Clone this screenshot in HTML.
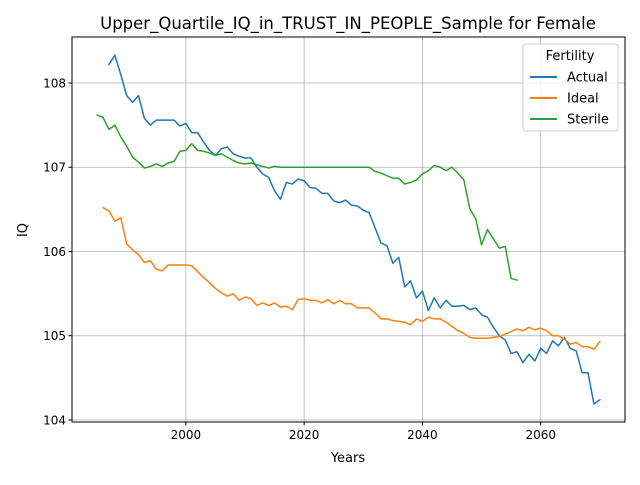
<!DOCTYPE html>
<html><head><meta charset="utf-8"><style>
body{margin:0;background:#fff;}
svg text{font-family:"DejaVu Sans","Liberation Sans",sans-serif;fill:#000;}
</style></head><body>
<svg id="chart" width="640" height="480" xmlns="http://www.w3.org/2000/svg">
<rect width="640" height="480" fill="#fff"/>
<text x="348" y="29" font-size="16.5" text-anchor="middle">Upper_Quartile_IQ_in_TRUST_IN_PEOPLE_Sample for Female</text>
<g id="grid"></g>
<g id="series"></g>
<rect x="72" y="37" width="553" height="385" fill="none" stroke="#000" stroke-width="1"/>
<g id="ticks"></g>
<text x="348" y="462" font-size="13" text-anchor="middle">Years</text>
<text transform="translate(27,230) rotate(-90)" font-size="13" text-anchor="middle">IQ</text>
<g>
<rect x="523" y="44" width="95" height="87" rx="3" fill="#fff" fill-opacity="0.8" stroke="#ccc"/>
<text x="570" y="60" font-size="13" text-anchor="middle">Fertility</text>
<g><line x1="530" y1="77" x2="557" y2="77" stroke="#1f77b4" stroke-width="2"/><text x="567" y="81.5" font-size="13">Actual</text></g>
<g><line x1="530" y1="98" x2="557" y2="98" stroke="#ff7f0e" stroke-width="2"/><text x="567" y="102.5" font-size="13">Ideal</text></g>
<g><line x1="530" y1="119" x2="557" y2="119" stroke="#2ca02c" stroke-width="2"/><text x="567" y="123.5" font-size="13">Sterile</text></g>
</g>
</svg>
<script>
const actualStart = 1987;
const actualValues = [108.22,108.33,108.1,107.85,107.77,107.85,107.58,107.5,107.56,107.56,107.56,107.56,107.49,107.52,107.41,107.41,107.3,107.2,107.14,107.22,107.24,107.16,107.13,107.11,107.11,107.0,106.92,106.88,106.72,106.62,106.82,106.8,106.86,106.84,106.76,106.75,106.69,106.69,106.6,106.58,106.61,106.55,106.54,106.49,106.46,106.28,106.1,106.07,105.86,105.93,105.58,105.65,105.45,105.53,105.3,105.45,105.33,105.42,105.35,105.35,105.36,105.31,105.33,105.25,105.22,105.1,105.0,104.95,104.79,104.81,104.68,104.78,104.7,104.85,104.79,104.94,104.88,104.98,104.85,104.82,104.56,104.56,104.19,104.24];
const idealStart = 1986;
const idealValues = [106.52,106.48,106.36,106.4,106.09,106.02,105.96,105.87,105.89,105.79,105.77,105.84,105.84,105.84,105.84,105.83,105.76,105.69,105.63,105.56,105.51,105.47,105.5,105.42,105.46,105.44,105.36,105.39,105.36,105.39,105.34,105.35,105.31,105.43,105.44,105.42,105.42,105.39,105.43,105.38,105.42,105.38,105.38,105.33,105.33,105.33,105.27,105.2,105.2,105.18,105.17,105.16,105.13,105.2,105.17,105.22,105.2,105.2,105.16,105.11,105.06,105.03,104.98,104.97,104.97,104.97,104.98,104.99,105.02,105.05,105.08,105.06,105.1,105.07,105.09,105.06,105.0,105.0,104.96,104.9,104.92,104.87,104.87,104.84,104.93];
const sterileStart = 1985;
const sterileValues = [107.62,107.59,107.45,107.5,107.36,107.25,107.12,107.06,106.99,107.01,107.04,107.01,107.05,107.07,107.19,107.2,107.28,107.2,107.19,107.17,107.14,107.16,107.12,107.08,107.05,107.04,107.05,107.03,107.01,106.99,107.01,107.0,107.0,107.0,107.0,107.0,107.0,107.0,107.0,107.0,107.0,107.0,107.0,107.0,107.0,107.0,107.0,106.95,106.93,106.9,106.87,106.87,106.8,106.82,106.85,106.92,106.96,107.02,107.0,106.96,107.0,106.93,106.85,106.51,106.39,106.08,106.26,106.15,106.04,106.06,105.68,105.66];
const xTicks = [2000,2020,2040,2060];
const yTicks = [104,105,106,107,108];

const X0=72,X1=625,Y0=37,Y1=422, xMin=1980.75,xMax=2074.25,yMin=103.976,yMax=108.546;
const xs=v=>X0+(v-xMin)/(xMax-xMin)*(X1-X0);
const ys=v=>Y1-(v-yMin)/(yMax-yMin)*(Y1-Y0);
const NS='http://www.w3.org/2000/svg';
const mk=(t,a,p)=>{const e=document.createElementNS(NS,t);for(const k in a)e.setAttribute(k,a[k]);p.appendChild(e);return e;};
const grid=document.getElementById('grid'),ticks=document.getElementById('ticks'),series=document.getElementById('series');
xTicks.forEach(t=>{const x=xs(t);
 const g=mk('line',{x1:x,x2:x,y1:Y0,y2:Y1,stroke:'#b0b0b0','stroke-width':0.8},grid);
 
 
 mk('line',{x1:x,x2:x,y1:Y1,y2:Y1+3.5,stroke:'#000'},ticks);
 const l=mk('text',{x:x,y:Y1+17,'font-size':12,'text-anchor':'middle'},ticks);l.textContent=t;
 
 
});
yTicks.forEach(t=>{const y=ys(t);
 const g=mk('line',{x1:X0,x2:X1,y1:y,y2:y,stroke:'#b0b0b0','stroke-width':0.8},grid);
 
 
 mk('line',{x1:X0-3.5,x2:X0,y1:y,y2:y,stroke:'#000'},ticks);
 const l=mk('text',{x:X0-6,y:y+4.5,'font-size':12,'text-anchor':'end'},ticks);l.textContent=t;
 
 
});
function line(start,vals,color,name){
 const pts=vals.map((v,i)=>xs(start+i).toFixed(2)+','+ys(v).toFixed(2)).join(' ');
 const p=mk('polyline',{points:pts,fill:'none',stroke:color,'stroke-width':1.5,'stroke-linejoin':'round','stroke-linecap':'square'},series);
 
 
}
line(actualStart,actualValues,'#1f77b4','actual-line');
line(idealStart,idealValues,'#ff7f0e','ideal-line');
line(sterileStart,sterileValues,'#2ca02c','sterile-line');
</script>
</body></html>
